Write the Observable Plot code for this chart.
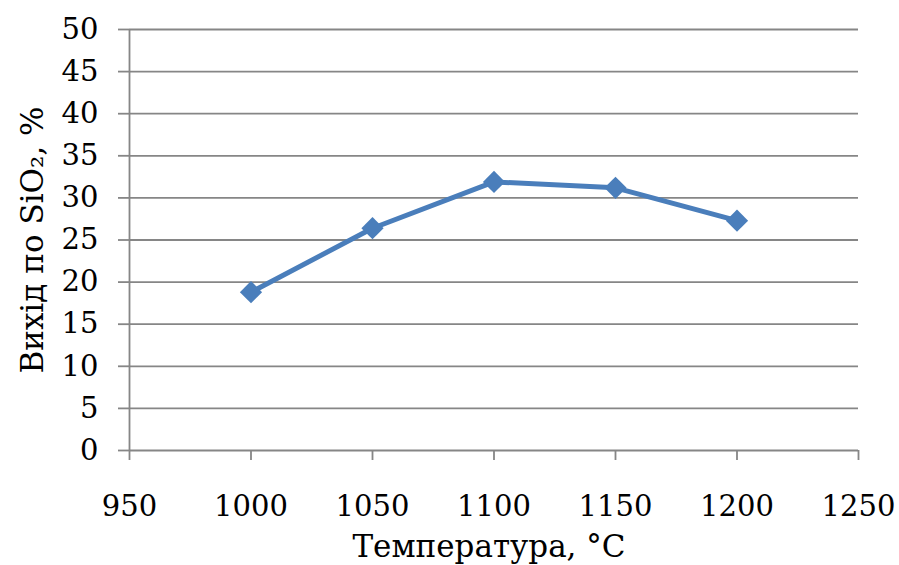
<!DOCTYPE html>
<html>
<head>
<meta charset="utf-8">
<script src="https://cdn.jsdelivr.net/npm/d3@7"></script>
<script src="https://cdn.jsdelivr.net/npm/@observablehq/plot@0.6"></script>
<style>
  html, body { margin: 0; padding: 0; background: #fff; }
  #chart svg { display: block; }
</style>
</head>
<body>
<div id="chart"></div>
<script>
// Yield of SiO2 versus synthesis temperature
const temperatures = [1000, 1050, 1100, 1150, 1200];
const yieldPct = [18.8, 26.4, 31.9, 31.2, 27.3];

const xTicks = [950, 1000, 1050, 1100, 1150, 1200, 1250];
const yTicks = [0, 5, 10, 15, 20, 25, 30, 35, 40, 45, 50];

const xTitle = "Температура, °C";
const yTitle = "Вихід по SiO₂, %";

const data = temperatures.map((t, i) => ({t, v: yieldPct[i]}));

const serif = "'DejaVu Serif', serif";
const gridColor = "#868686";
const lineColor = "#4a7ebb";

const chart = Plot.plot({
  width: 899,
  height: 565,
  marginLeft: 129,
  marginRight: 41,
  marginTop: 29,
  marginBottom: 115,
  style: {background: "#fff"},
  x: {domain: [950, 1250]},
  y: {domain: [0, 50]},
  marks: [
    // horizontal gridlines (the bottom one doubles as the x axis line)
    Plot.ruleY(yTicks, {stroke: gridColor, strokeWidth: 1.8}),
    // left axis line
    Plot.ruleX([950], {stroke: gridColor, strokeWidth: 1.8}),
    Plot.axisY(yTicks, {
      tickSize: 11, tickPadding: 20, stroke: gridColor, strokeWidth: 1.8,
      fill: "#000", fontSize: 29, label: null, tickFormat: d => String(d)
    }),
    Plot.axisX(xTicks, {
      tickSize: 10, tickPadding: 35, stroke: gridColor, strokeWidth: 1.8,
      fill: "#000", fontSize: 29, label: null, tickFormat: d => String(d)
    }),
    // axis titles
    Plot.text([yTitle], {
      frameAnchor: "left", rotate: -90, dx: -96, fontSize: 31,
      fill: "#000", textAnchor: "middle", lineAnchor: "middle"
    }),
    Plot.text([xTitle], {
      frameAnchor: "bottom", dy: 97, dx: -5, fontSize: 31,
      fill: "#000", textAnchor: "middle", lineAnchor: "middle"
    }),
    // series
    Plot.line(data, {x: "t", y: "v", stroke: lineColor, strokeWidth: 5, strokeLinejoin: "round"}),
    Plot.dot(data, {x: "t", y: "v", symbol: "diamond2", r: 10, fill: lineColor, stroke: "none"})
  ]
});

// serif face for every label
d3.select(chart).attr("font-family", serif).style("font-family", serif);
d3.select(chart).selectAll("text, g").style("font-family", serif);

document.getElementById("chart").append(chart);
</script>
</body>
</html>
